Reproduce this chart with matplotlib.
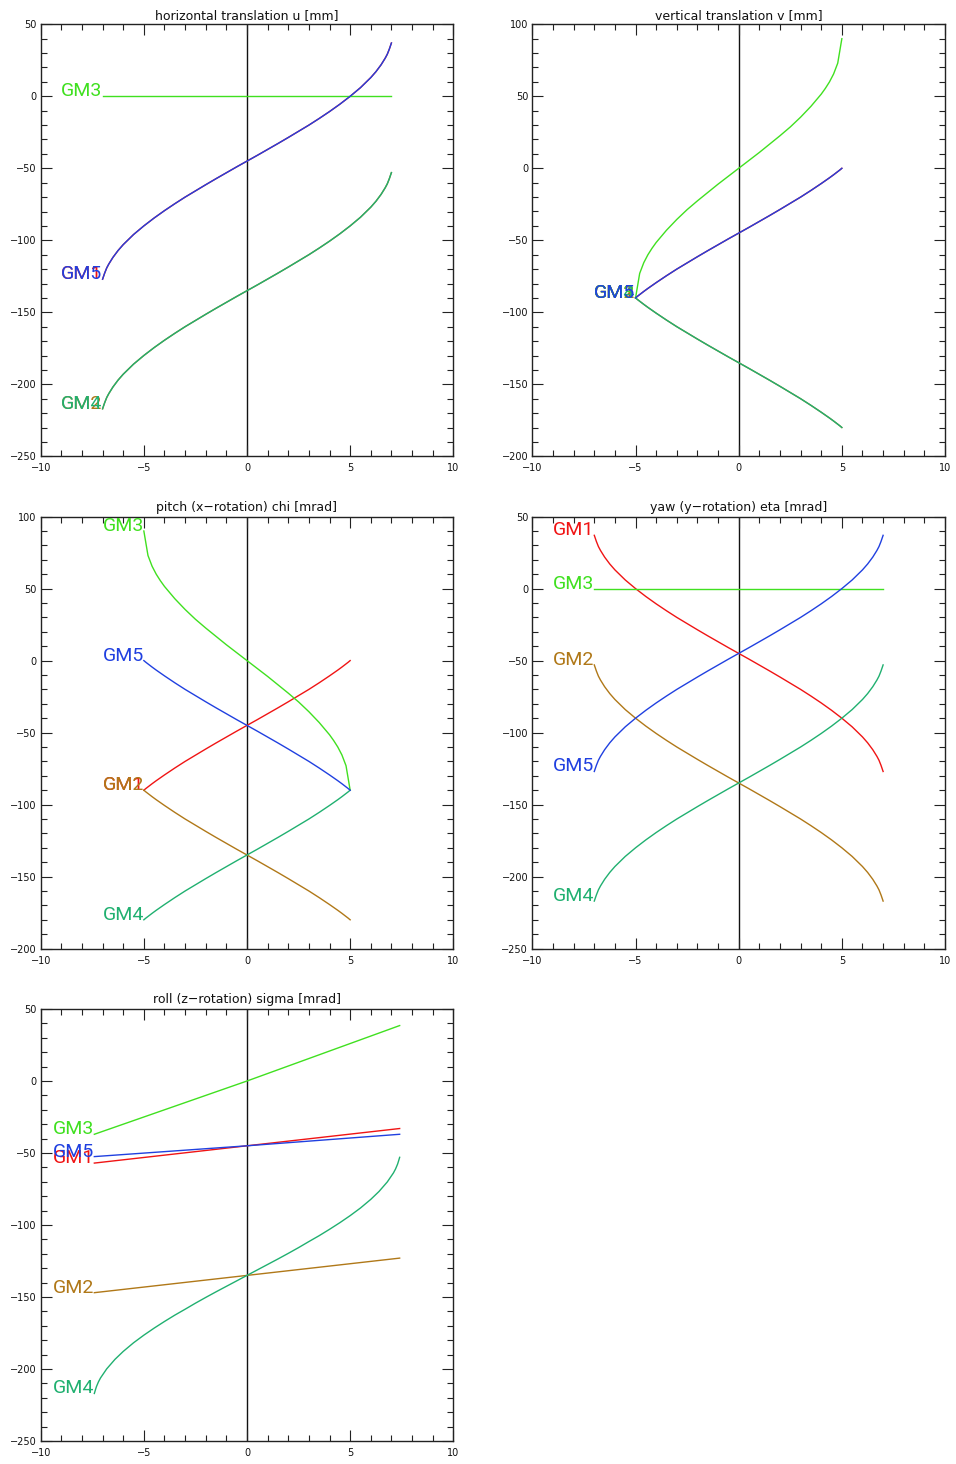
import matplotlib
matplotlib.use('Agg')
import matplotlib.pyplot as plt
from matplotlib.ticker import MultipleLocator

# ---------------- data ----------------
# x samples for the +-7 wide sweeps (panels 1 and 4)
x7 = [-7, -6.95, -6.9, -6.8, -6.7, -6.5, -6.25, -6, -5.5, -5, -4.5, -4, -3.5, -3, -2.5, -2, -1.5, -1, -0.5,
      0, 0.5, 1, 1.5, 2, 2.5, 3, 3.5, 4, 4.5, 5, 5.5, 6, 6.25, 6.5, 6.7, 6.8, 6.9, 6.95, 7]
# x samples for the +-5 wide sweeps (panels 2 and 3)
x5 = [-5, -4.9, -4.8, -4.6, -4.4, -4.2, -4, -3.5, -3, -2.5, -2, -1.5, -1, -0.5,
      0, 0.5, 1, 1.5, 2, 2.5, 3, 3.5, 4, 4.2, 4.4, 4.6, 4.8, 4.9, 5]
x5_g3 = [-5, -4.8, -4.6, -4.4, -4.2, -4, -3.5, -3, -2.5, -2, -1.5, -1, -0.5,
         0, 0.5, 1, 1.5, 2, 2.5, 3, 3.5, 4, 4.2, 4.4, 4.6, 4.8, 5]

# Panel 1: horizontal translation u [mm]
u_gm1 = [-127, -124.9, -122.8, -119.2, -116.5, -111.9, -107.1, -103, -96, -90, -84.5, -79.4, -74.6, -70, -65.7,
         -61.4, -57.2, -53.1, -49, -45, -41, -36.9, -32.8, -28.6, -24.3, -20, -15.4, -10.6, -5.5, 0, 6, 13,
         17.1, 21.9, 26.5, 29.2, 32.8, 34.9, 37]
u_gm2 = [-217, -214.9, -212.8, -209.2, -206.5, -201.9, -197.1, -193, -186, -180, -174.5, -169.4, -164.6, -160,
         -155.7, -151.4, -147.2, -143.1, -139, -135, -131, -126.9, -122.8, -118.6, -114.3, -110, -105.4, -100.6,
         -95.5, -90, -84, -77, -72.9, -68.1, -63.5, -60.8, -57.2, -55.1, -53]
u_gm3_x = [-7, 7]
u_gm3 = [0, 0]
u_gm4 = list(u_gm2)
u_gm5 = list(u_gm1)

# Panel 2: vertical translation v [mm]
v_gm1 = [-90, -88.8, -87.7, -85.5, -83.4, -81.4, -79.4, -74.6, -70, -65.7, -61.4, -57.2, -53.1, -49,
         -45, -41, -36.9, -32.8, -28.6, -24.3, -20, -15.4, -10.6, -8.6, -6.6, -4.5, -2.3, -1.2, 0]
v_gm2 = [-90, -91.2, -92.3, -94.5, -96.6, -98.6, -100.6, -105.4, -110, -114.3, -118.6, -122.8, -126.9, -131,
         -135, -139, -143.1, -147.2, -151.4, -155.7, -160, -164.6, -169.4, -171.4, -173.4, -175.5, -177.7, -178.8, -180]
v_gm3 = [-90, -73, -65.5, -60, -55.5, -51.5, -43, -35.5, -28.7, -22.6, -16.8, -11, -5.5,
         0, 5.5, 11, 16.8, 22.6, 28.7, 35.5, 43, 51.5, 55.5, 60, 65.5, 73, 90]
v_gm4 = list(v_gm2)
v_gm5 = list(v_gm1)

# Panel 3: pitch (x-rotation) chi [mrad]
chi_gm1 = [-90, -88.8, -87.7, -85.5, -83.4, -81.4, -79.4, -74.6, -70, -65.7, -61.4, -57.2, -53.1, -49,
           -45, -41, -36.9, -32.8, -28.6, -24.3, -20, -15.4, -10.6, -8.6, -6.6, -4.5, -2.3, -1.2, 0]
chi_gm2 = [-90, -91.2, -92.3, -94.5, -96.6, -98.6, -100.6, -105.4, -110, -114.3, -118.6, -122.8, -126.9, -131,
           -135, -139, -143.1, -147.2, -151.4, -155.7, -160, -164.6, -169.4, -171.4, -173.4, -175.5, -177.7, -178.8, -180]
chi_gm3 = [90, 73, 65.5, 60, 55.5, 51.5, 43, 35.5, 28.7, 22.6, 16.8, 11, 5.5,
           0, -5.5, -11, -16.8, -22.6, -28.7, -35.5, -43, -51.5, -55.5, -60, -65.5, -73, -90]
chi_gm4 = [-180, -178.8, -177.7, -175.5, -173.4, -171.4, -169.4, -164.6, -160, -155.7, -151.4, -147.2, -143.1, -139,
           -135, -131, -126.9, -122.8, -118.6, -114.3, -110, -105.4, -100.6, -98.6, -96.6, -94.5, -92.3, -91.2, -90]
chi_gm5 = [0, -1.2, -2.3, -4.5, -6.6, -8.6, -10.6, -15.4, -20, -24.3, -28.6, -32.8, -36.9, -41,
           -45, -49, -53.1, -57.2, -61.4, -65.7, -70, -74.6, -79.4, -81.4, -83.4, -85.5, -87.7, -88.8, -90]

# Panel 4: yaw (y-rotation) eta [mrad]
eta_gm1 = [37, 34.9, 32.8, 29.2, 26.5, 21.9, 17.1, 13, 6, 0, -5.5, -10.6, -15.4, -20, -24.3, -28.6, -32.8,
           -36.9, -41, -45, -49, -53.1, -57.2, -61.4, -65.7, -70, -74.6, -79.4, -84.5, -90, -96, -103, -107.1,
           -111.9, -116.5, -119.2, -122.8, -124.9, -127]
eta_gm2 = [-53, -55.1, -57.2, -60.8, -63.5, -68.1, -72.9, -77, -84, -90, -95.5, -100.6, -105.4, -110, -114.3,
           -118.6, -122.8, -126.9, -131, -135, -139, -143.1, -147.2, -151.4, -155.7, -160, -164.6, -169.4, -174.5,
           -180, -186, -193, -197.1, -201.9, -206.5, -209.2, -212.8, -214.9, -217]
eta_gm3_x = [-7, 7]
eta_gm3 = [0, 0]
eta_gm4 = [-217, -214.9, -212.8, -209.2, -206.5, -201.9, -197.1, -193, -186, -180, -174.5, -169.4, -164.6, -160,
           -155.7, -151.4, -147.2, -143.1, -139, -135, -131, -126.9, -122.8, -118.6, -114.3, -110, -105.4, -100.6,
           -95.5, -90, -84, -77, -72.9, -68.1, -63.5, -60.8, -57.2, -55.1, -53]
eta_gm5 = [-127, -124.9, -122.8, -119.2, -116.5, -111.9, -107.1, -103, -96, -90, -84.5, -79.4, -74.6, -70, -65.7,
           -61.4, -57.2, -53.1, -49, -45, -41, -36.9, -32.8, -28.6, -24.3, -20, -15.4, -10.6, -5.5, 0, 6, 13,
           17.1, 21.9, 26.5, 29.2, 32.8, 34.9, 37]

# Panel 5: roll (z-rotation) sigma [mrad]
sig_lin_x = [-7.4, 0, 7.4]
sig_gm1 = [-57, -45, -33]
sig_gm2 = [-147, -135, -123]
sig_gm3 = [-37, 0, 38.5]
sig_gm5 = [-52.5, -45, -37]
sig_x = [-7.4, -7.35, -7.3, -7.2, -7.1, -6.8, -6.4, -6, -5.5, -5, -4.5, -4, -3.5, -3, -2.5, -2, -1.5, -1, -0.5,
         0, 0.5, 1, 1.5, 2, 2.5, 3, 3.5, 4, 4.5, 5, 5.5, 6, 6.4, 6.8, 7.1, 7.2, 7.3, 7.35, 7.4]
sig_gm4 = [-217, -214.6, -212.3, -208.9, -206.2, -199.9, -193.3, -187.8, -181.8, -176.5, -171.6, -167, -162.6,
           -158.5, -154.3, -150.3, -146.4, -142.6, -138.8, -135, -131.2, -127.4, -123.6, -119.7, -115.7, -111.5,
           -107.4, -103, -98.4, -93.5, -88.2, -82.2, -76.7, -70.1, -63.8, -61.1, -57.7, -55.4, -53]

names = ['GM1', 'GM2', 'GM3', 'GM4', 'GM5']
colors = ['#f01414', '#b07818', '#40e020', '#20b070', '#2040e0']

panels = [
    dict(title='horizontal translation u [mm]', ylim=(-250, 50),
         series=[(x7, u_gm1), (x7, u_gm2), (u_gm3_x, u_gm3), (x7, u_gm4), (x7, u_gm5)]),
    dict(title='vertical translation v [mm]', ylim=(-200, 100),
         series=[(x5, v_gm1), (x5, v_gm2), (x5_g3, v_gm3), (x5, v_gm4), (x5, v_gm5)]),
    dict(title='pitch (x\u2212rotation) chi [mrad]', ylim=(-200, 100),
         series=[(x5, chi_gm1), (x5, chi_gm2), (x5_g3, chi_gm3), (x5, chi_gm4), (x5, chi_gm5)]),
    dict(title='yaw (y\u2212rotation) eta [mrad]', ylim=(-250, 50),
         series=[(x7, eta_gm1), (x7, eta_gm2), (eta_gm3_x, eta_gm3), (x7, eta_gm4), (x7, eta_gm5)]),
    dict(title='roll (z\u2212rotation) sigma [mrad]', ylim=(-250, 50),
         series=[(sig_lin_x, sig_gm1), (sig_lin_x, sig_gm2), (sig_lin_x, sig_gm3), (sig_x, sig_gm4),
                 (sig_lin_x, sig_gm5)]),
]

# ---------------- layout ----------------
W, H = 956, 1464
fig = plt.figure(figsize=(W / 100, H / 100), dpi=100)
col_left = [40.7, 532.4]
row_top = [24.3, 516.6, 1009.0]
aw, ah = 412.6, 432.0

for i, p in enumerate(panels):
    r, c = divmod(i, 2)
    l = col_left[c] / W
    b = 1 - (row_top[r] + ah) / H
    ax = fig.add_axes([l, b, aw / W, ah / H])
    ax.set_xlim(-10, 10)
    ax.set_ylim(*p['ylim'])
    ax.xaxis.set_major_locator(MultipleLocator(5))
    ax.xaxis.set_minor_locator(MultipleLocator(1))
    ax.yaxis.set_major_locator(MultipleLocator(50))
    ax.yaxis.set_minor_locator(MultipleLocator(10))
    ax.tick_params(which='both', direction='in', top=True, right=True,
                   color='#222222', width=0.8, labelsize=7, labelcolor='#111111')
    ax.tick_params(which='major', length=8)
    ax.tick_params(which='minor', length=4)
    ax.tick_params(axis='y', pad=3)
    ax.tick_params(axis='x', pad=5)
    for s in ax.spines.values():
        s.set_linewidth(1.0)
        s.set_color('#222222')
    ax.axvline(0, color='#111111', lw=1.0, zorder=1)
    for (xs, ys), name, col in zip(p['series'], names, colors):
        ax.plot(xs, ys, color=col, lw=1.0, zorder=2)
    for (xs, ys), name, col in zip(p['series'], names, colors):
        ax.text(xs[0], ys[0], name, color=col, ha='right', va='baseline',
                fontsize=14, family='Roboto', fontweight='normal', zorder=3)
    ax.set_title(p['title'], fontsize=9, pad=4, color='#111111')

fig.savefig('out.png', dpi=100)
